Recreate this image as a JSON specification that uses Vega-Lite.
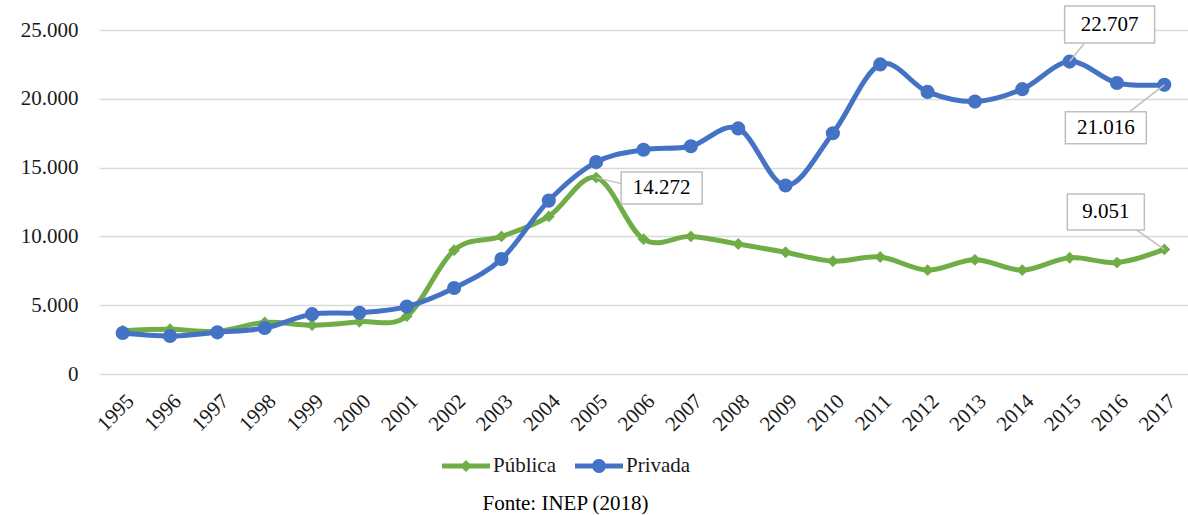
{
  "$schema": "https://vega.github.io/schema/vega-lite/v6.json",
  "width": 1089,
  "height": 344,
  "autosize": {"type": "none"},
  "padding": {"left": 99, "top": 30, "right": 0, "bottom": 141},
  "background": "white",
  "title": {
    "text": "Fonte: INEP (2018)",
    "orient": "bottom",
    "anchor": "middle",
    "frame": "group",
    "offset": 17,
    "dx": -78,
    "font": "Times New Roman, Liberation Serif, serif",
    "fontSize": 21,
    "fontWeight": "normal",
    "color": "#000000"
  },
  "datasets": {
    "rows": [
      {"year": "1995", "serie": "Pública", "value": 3150},
      {"year": "1996", "serie": "Pública", "value": 3250},
      {"year": "1997", "serie": "Pública", "value": 3100},
      {"year": "1998", "serie": "Pública", "value": 3750},
      {"year": "1999", "serie": "Pública", "value": 3550},
      {"year": "2000", "serie": "Pública", "value": 3800},
      {"year": "2001", "serie": "Pública", "value": 4200},
      {"year": "2002", "serie": "Pública", "value": 9000},
      {"year": "2003", "serie": "Pública", "value": 10000},
      {"year": "2004", "serie": "Pública", "value": 11450},
      {"year": "2005", "serie": "Pública", "value": 14272},
      {"year": "2006", "serie": "Pública", "value": 9800},
      {"year": "2007", "serie": "Pública", "value": 10000},
      {"year": "2008", "serie": "Pública", "value": 9450},
      {"year": "2009", "serie": "Pública", "value": 8850},
      {"year": "2010", "serie": "Pública", "value": 8200},
      {"year": "2011", "serie": "Pública", "value": 8500},
      {"year": "2012", "serie": "Pública", "value": 7550},
      {"year": "2013", "serie": "Pública", "value": 8300},
      {"year": "2014", "serie": "Pública", "value": 7550},
      {"year": "2015", "serie": "Pública", "value": 8450},
      {"year": "2016", "serie": "Pública", "value": 8100},
      {"year": "2017", "serie": "Pública", "value": 9051},
      {"year": "1995", "serie": "Privada", "value": 2980},
      {"year": "1996", "serie": "Privada", "value": 2760},
      {"year": "1997", "serie": "Privada", "value": 3030},
      {"year": "1998", "serie": "Privada", "value": 3340},
      {"year": "1999", "serie": "Privada", "value": 4350},
      {"year": "2000", "serie": "Privada", "value": 4450},
      {"year": "2001", "serie": "Privada", "value": 4900},
      {"year": "2002", "serie": "Privada", "value": 6250},
      {"year": "2003", "serie": "Privada", "value": 8350},
      {"year": "2004", "serie": "Privada", "value": 12600},
      {"year": "2005", "serie": "Privada", "value": 15400},
      {"year": "2006", "serie": "Privada", "value": 16300},
      {"year": "2007", "serie": "Privada", "value": 16550},
      {"year": "2008", "serie": "Privada", "value": 17850},
      {"year": "2009", "serie": "Privada", "value": 13700},
      {"year": "2010", "serie": "Privada", "value": 17500},
      {"year": "2011", "serie": "Privada", "value": 22500},
      {"year": "2012", "serie": "Privada", "value": 20500},
      {"year": "2013", "serie": "Privada", "value": 19800},
      {"year": "2014", "serie": "Privada", "value": 20700},
      {"year": "2015", "serie": "Privada", "value": 22707},
      {"year": "2016", "serie": "Privada", "value": 21150},
      {"year": "2017", "serie": "Privada", "value": 21016}
    ],
    "callouts": [
      {"year": "2005", "serie": "Pública", "value": 14272, "label": "14.272"},
      {"year": "2015", "serie": "Privada", "value": 22707, "label": "22.707"},
      {"year": "2017", "serie": "Privada", "value": 21016, "label": "21.016"},
      {"year": "2017", "serie": "Pública", "value": 9051, "label": "9.051"}
    ]
  },
  "encoding": {
    "x": {
      "field": "year",
      "type": "ordinal",
      "scale": {"type": "point", "padding": 0.5},
      "axis": {
        "title": null,
        "labelAngle": -45,
        "labelFont": "Times New Roman, Liberation Serif, serif",
        "labelFontSize": 21,
        "labelColor": "#1a1a1a",
        "labelPadding": 16,
        "domain": false,
        "ticks": false,
        "grid": false
      }
    },
    "y": {
      "field": "value",
      "type": "quantitative",
      "scale": {"domain": [0, 25000], "nice": false},
      "axis": {
        "title": null,
        "values": [0, 5000, 10000, 15000, 20000, 25000],
        "labelExpr": "replace(format(datum.value, ','), ',', '.')",
        "labelFont": "Times New Roman, Liberation Serif, serif",
        "labelFontSize": 21,
        "labelColor": "#1a1a1a",
        "labelPadding": 21,
        "domain": false,
        "ticks": false,
        "grid": true,
        "gridColor": "#d9d9d9",
        "gridWidth": 1.5
      }
    }
  },
  "layer": [
    {
      "data": {"name": "rows"},
      "transform": [{"filter": "datum.serie == 'Pública'"}],
      "mark": {"type": "line", "interpolate": "cardinal", "strokeWidth": 5, "strokeCap": "round", "color": "#70AD47"}
    },
    {
      "data": {"name": "rows"},
      "transform": [{"filter": "datum.serie == 'Privada'"}],
      "mark": {"type": "line", "interpolate": "cardinal", "strokeWidth": 5, "strokeCap": "round", "color": "#4472C4"}
    },
    {
      "data": {"name": "rows"},
      "transform": [{"filter": "datum.serie == 'Pública'"}],
      "mark": {"type": "point", "filled": true, "opacity": 1, "shape": "diamond", "size": 140, "color": "#70AD47"}
    },
    {
      "data": {"name": "rows"},
      "transform": [{"filter": "datum.serie == 'Privada'"}],
      "mark": {"type": "point", "filled": true, "opacity": 1, "shape": "circle", "size": 200, "color": "#4472C4"}
    },
    {
      "data": {"name": "rows"},
      "transform": [{"filter": "datum.value < 0"}],
      "mark": {"type": "point", "filled": true, "opacity": 1},
      "encoding": {
        "color": {
          "field": "serie",
          "type": "nominal",
          "scale": {"domain": ["Pública", "Privada"], "range": ["#70AD47", "#4472C4"]},
          "legend": {
            "title": null,
            "orient": "none",
            "legendX": 343,
            "legendY": 412,
            "direction": "horizontal",
            "symbolSize": 2304,
            "symbolOpacity": 1,
            "symbolStrokeWidth": 0,
            "labelOffset": 3,
            "columnPadding": 19,
            "labelFont": "Times New Roman, Liberation Serif, serif",
            "labelFontSize": 21,
            "labelColor": "#1a1a1a"
          }
        },
        "shape": {
          "field": "serie",
          "type": "nominal",
          "scale": {
            "domain": ["Pública", "Privada"],
            "range": [
              "M-1,-0.104H-0.146L0,-0.25L0.146,-0.104H1V0.104H0.146L0,0.25L-0.146,0.104H-1Z",
              "M-1,-0.104H-0.2707A0.29,0.29 0 0,1 0.2707,-0.104H1V0.104H0.2707A0.29,0.29 0 0,1 -0.2707,0.104H-1Z"
            ]
          },
          "legend": {
            "title": null,
            "orient": "none",
            "legendX": 343,
            "legendY": 412,
            "direction": "horizontal",
            "symbolSize": 2304,
            "symbolOpacity": 1,
            "symbolStrokeWidth": 0,
            "labelOffset": 3,
            "columnPadding": 19,
            "labelFont": "Times New Roman, Liberation Serif, serif",
            "labelFontSize": 21,
            "labelColor": "#1a1a1a"
          }
        }
      }
    },
    {
      "data": {"name": "callouts"},
      "transform": [{"filter": "datum.label == '14.272'"}],
      "encoding": {
        "x2": {"field": "year"},
        "y2": {"field": "value"}
      },
      "layer": [
        {"mark": {"type": "rule", "color": "#bfbfbf", "strokeWidth": 1.5, "x2Offset": 25, "y2Offset": 6}},
        {"mark": {"type": "rect", "fill": "white", "stroke": "#bfbfbf", "strokeWidth": 1.5, "xOffset": 25, "x2Offset": 106, "yOffset": -5.6, "y2Offset": 26.4}},
        {"mark": {"type": "text", "dx": 65.5, "dy": 10.4, "font": "Times New Roman, Liberation Serif, serif", "fontSize": 21, "color": "#000000", "align": "center", "baseline": "middle"}, "encoding": {"text": {"field": "label"}, "x2": null, "y2": null}}
      ]
    },
    {
      "data": {"name": "callouts"},
      "transform": [{"filter": "datum.label == '22.707'"}],
      "encoding": {
        "x2": {"field": "year"},
        "y2": {"field": "value"}
      },
      "layer": [
        {"mark": {"type": "rule", "color": "#bfbfbf", "strokeWidth": 1.5, "x2Offset": 15, "y2Offset": -18.6}},
        {"mark": {"type": "rect", "fill": "white", "stroke": "#bfbfbf", "strokeWidth": 1.5, "xOffset": -5, "x2Offset": 85, "yOffset": -55.6, "y2Offset": -18.6}},
        {"mark": {"type": "text", "dx": 40, "dy": -37, "font": "Times New Roman, Liberation Serif, serif", "fontSize": 21, "color": "#000000", "align": "center", "baseline": "middle"}, "encoding": {"text": {"field": "label"}, "x2": null, "y2": null}}
      ]
    },
    {
      "data": {"name": "callouts"},
      "transform": [{"filter": "datum.label == '21.016'"}],
      "encoding": {
        "x2": {"field": "year"},
        "y2": {"field": "value"}
      },
      "layer": [
        {"mark": {"type": "rule", "color": "#bfbfbf", "strokeWidth": 1.5, "x2Offset": -35, "y2Offset": 27}},
        {"mark": {"type": "rect", "fill": "white", "stroke": "#bfbfbf", "strokeWidth": 1.5, "xOffset": -99, "x2Offset": -18, "yOffset": 27, "y2Offset": 59}},
        {"mark": {"type": "text", "dx": -58.5, "dy": 43, "font": "Times New Roman, Liberation Serif, serif", "fontSize": 21, "color": "#000000", "align": "center", "baseline": "middle"}, "encoding": {"text": {"field": "label"}, "x2": null, "y2": null}}
      ]
    },
    {
      "data": {"name": "callouts"},
      "transform": [{"filter": "datum.label == '9.051'"}],
      "encoding": {
        "x2": {"field": "year"},
        "y2": {"field": "value"}
      },
      "layer": [
        {"mark": {"type": "rule", "color": "#bfbfbf", "strokeWidth": 1.5, "x2Offset": -28, "y2Offset": -19.5}},
        {"mark": {"type": "rect", "fill": "white", "stroke": "#bfbfbf", "strokeWidth": 1.5, "xOffset": -97, "x2Offset": -20, "yOffset": -55.5, "y2Offset": -19.5}},
        {"mark": {"type": "text", "dx": -58.5, "dy": -37.5, "font": "Times New Roman, Liberation Serif, serif", "fontSize": 21, "color": "#000000", "align": "center", "baseline": "middle"}, "encoding": {"text": {"field": "label"}, "x2": null, "y2": null}}
      ]
    }
  ],
  "config": {
    "view": {"stroke": null}
  }
}
